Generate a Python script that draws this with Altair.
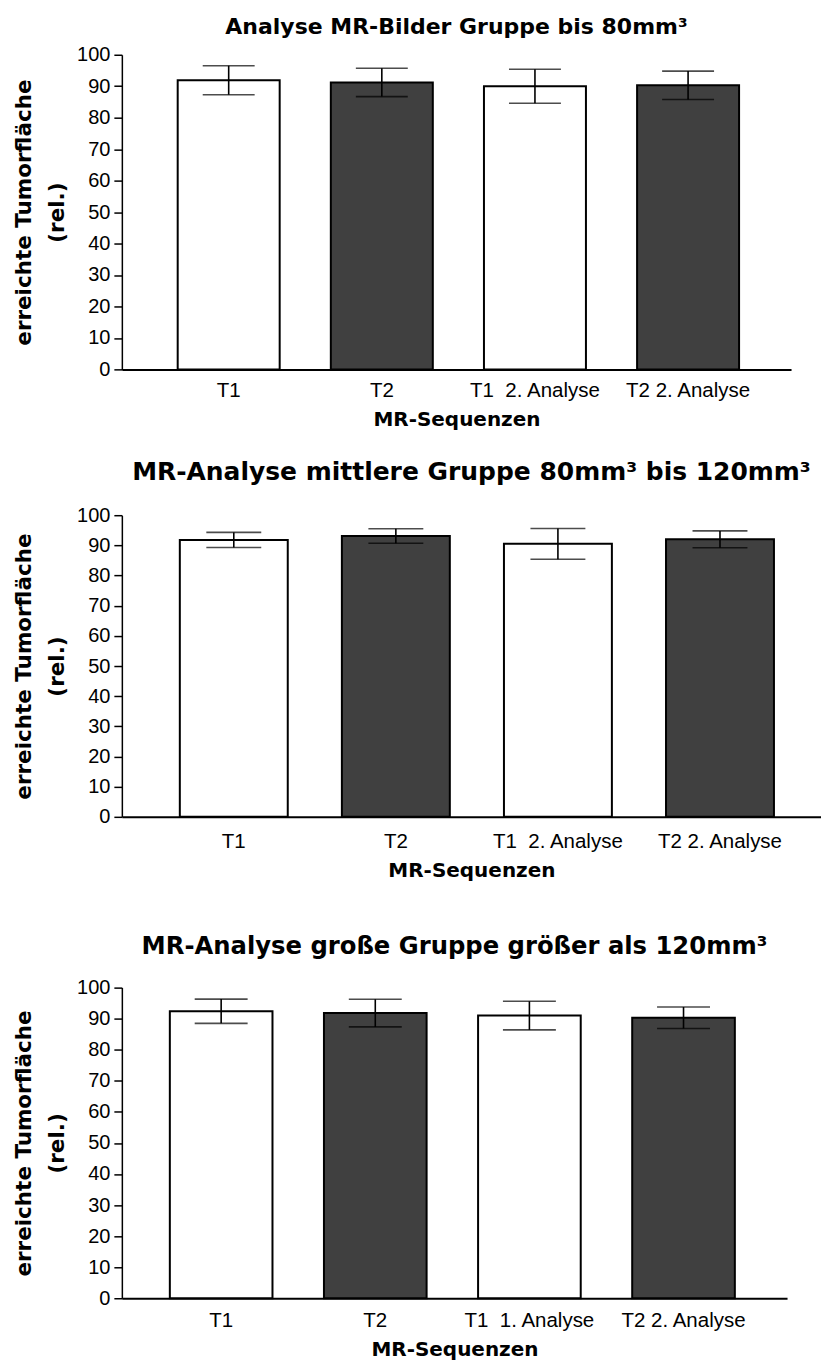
import altair as alt
import pandas as pd

# Sequence labels along the x axis of each panel
labels_small = ["T1", "T2", "T1\u00a0 2. Analyse", "T2 2. Analyse"]
labels_mid = ["T1", "T2", "T1\u00a0 2. Analyse", "T2 2. Analyse"]
labels_large = ["T1", "T2", "T1\u00a0 1. Analyse", "T2 2. Analyse"]

# Mean reached tumour area (relative) and standard deviation per sequence
mean_small = [91.9, 91.2, 90.0, 90.3]
sd_small = [4.6, 4.5, 5.4, 4.5]

mean_mid = [91.8, 93.1, 90.5, 92.0]
sd_mid = [2.5, 2.4, 5.1, 2.8]

mean_large = [92.4, 91.8, 91.0, 90.3]
sd_large = [3.9, 4.45, 4.6, 3.45]

# Bar shading alternates white / dark grey
shades = ["white", "#404040", "white", "#404040"]

SANS = "Liberation Sans"
BOLD = "DejaVu Sans"


def panel(title, labels, means, sds, width, height, title_size, title_offset,
          cap, pad_outer, band_align, label_pad):
    df = pd.DataFrame({"seq": labels, "mean": means, "sd": sds, "shade": shades})
    df["lo"] = df["mean"] - df["sd"]
    df["hi"] = df["mean"] + df["sd"]

    x_scale = alt.Scale(paddingInner=0.334, paddingOuter=pad_outer, align=band_align)
    x_axis = alt.Axis(
        title="MR-Sequenzen",
        labelAngle=0,
        ticks=False,
        tickSize=0,
        labelPadding=label_pad,
        labelFont=SANS,
        labelFontSize=20.5,
        labelColor="black",
        titleFont=BOLD,
        titleFontSize=20,
        titleFontWeight="bold",
        titleColor="black",
        titlePadding=8,
        domainColor="black",
        domainWidth=2,
    )
    y_axis = alt.Axis(
        values=list(range(0, 101, 10)),
        title=["erreichte Tumorfläche", "(rel.)"],
        titleFont=BOLD,
        titleFontSize=21.5,
        titleFontWeight="bold",
        titleColor="black",
        titleLineHeight=33,
        titlePadding=8,
        labelFont=SANS,
        labelFontSize=20,
        labelColor="black",
        labelPadding=4,
        tickSize=8,
        tickColor="black",
        tickWidth=1.5,
        domainColor="black",
        domainWidth=1.5,
        grid=False,
    )
    y_scale = alt.Scale(domain=[0, 100], nice=False)
    x_enc = alt.X("seq:N", sort=labels, scale=x_scale, axis=x_axis)

    bars = alt.Chart(df).mark_bar(stroke="black", strokeWidth=2).encode(
        x=x_enc,
        y=alt.Y("mean:Q", scale=y_scale, axis=y_axis),
        fill=alt.Fill("shade:N", scale=None),
    )
    whisker = alt.Chart(df).mark_rule(color="black", strokeWidth=1.6).encode(
        x=x_enc,
        y=alt.Y("lo:Q", scale=y_scale, axis=y_axis),
        y2="hi:Q",
    )
    cap_hi = alt.Chart(df).mark_tick(color="black", thickness=1.6, size=cap).encode(
        x=x_enc,
        y=alt.Y("hi:Q", scale=y_scale, axis=y_axis),
    )
    cap_lo = alt.Chart(df).mark_tick(color="black", thickness=1.6, size=cap).encode(
        x=x_enc,
        y=alt.Y("lo:Q", scale=y_scale, axis=y_axis),
    )
    return alt.layer(bars, whisker, cap_hi, cap_lo).properties(
        width=width,
        height=height,
        title=alt.Title(
            title,
            font=BOLD,
            fontSize=title_size,
            fontWeight="bold",
            color="black",
            anchor="middle",
            offset=title_offset,
        ),
    )


p1 = panel("Analyse MR-Bilder Gruppe bis 80mm³", labels_small, mean_small, sd_small,
           670, 315, 22, 6, 52, 0.352, 0.518, 11.5)
p2 = panel("MR-Analyse mittlere Gruppe 80mm³ bis 120mm³", labels_mid, mean_mid, sd_mid,
           700, 302, 25, 20.5, 55, 0.324, 0.552, 15)
p3 = panel("MR-Analyse große Gruppe größer als 120mm³", labels_large, mean_large, sd_large,
           666, 311, 24.3, 18, 53, 0.325, 0.479, 12.5)

upper = alt.vconcat(p1, p2, spacing=30)
chart = (
    alt.vconcat(upper, p3, spacing=54)
    .properties(padding={"left": 13, "top": 15, "right": 0, "bottom": 0})
    .configure_view(stroke=None)
)

chart.save("out.html", embed_options={"renderer": "svg", "actions": False})
